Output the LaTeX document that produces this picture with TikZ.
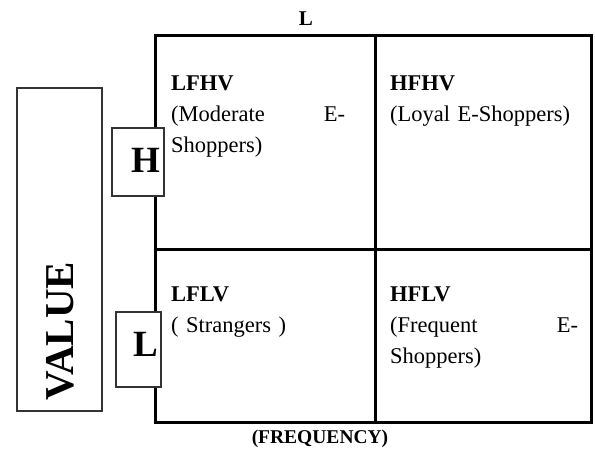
\documentclass[tikz,border=0pt]{standalone}
\usepackage{fontspec}
\setmainfont{Liberation Serif}
\begin{document}
\begin{tikzpicture}[x=1pt,y=-1pt,
  cell/.style={draw=black,line width=3pt,minimum width=#1,inner sep=0pt,outer sep=0pt},
  thinbox/.style={draw=black!80,line width=1.2pt,fill=white,inner sep=0pt,outer sep=0pt},
  celltext/.style={anchor=north west,inner sep=0pt,align=left,text width=#1,
    font=\fontsize{22.5}{31}\selectfont},
  bigletter/.style={inner sep=0pt,font=\fontsize{37}{37}\selectfont\bfseries},
  axislabel/.style={inner sep=0pt,font=\fontsize{21}{21}\selectfont\bfseries}]
\useasboundingbox (0,0) rectangle (595,453);
\fill[white] (0,0) rectangle (595,453);
% grid cells
\node[cell=220pt,minimum height=214pt] (c11) at (265,142) {};
\node[cell=216pt,minimum height=214pt] (c12) at (483,142) {};
\node[cell=220pt,minimum height=173pt] (c21) at (265,335.5) {};
\node[cell=216pt,minimum height=173pt] (c22) at (483,335.5) {};
% value box
\node[thinbox,minimum width=85pt,minimum height=323pt] (valbox) at (59.5,249.5) {};
\node[inner sep=0pt,rotate=90,font=\fontsize{41}{41}\selectfont\bfseries] (valtxt) at (60,331) {VALUE};
% H and L boxes
\node[thinbox,minimum width=52pt,minimum height=68pt] (hbox) at (138,162) {};
\node[bigletter] (htxt) at (145.5,160) {H};
\node[thinbox,minimum width=45pt,minimum height=75pt] (lbox) at (138.5,349.5) {};
\node[bigletter] (ltxt) at (146,344) {L};
% axis labels
\node[axislabel] (toplab) at (306,19) {L};
\node[axislabel,font=\fontsize{19.5}{19.5}\selectfont\bfseries] (freq) at (320,439) {(FREQUENCY)};
% cell texts
\node[celltext=174pt] (t11) at (171,76) {\textbf{LFHV}\\(Moderate\hfill E-\\Shoppers)};
\node[celltext=188pt] (t12) at (390,76) {\textbf{HFHV}\\(Loyal E-Shoppers)};
\node[celltext=174pt] (t21) at (171,287) {\textbf{LFLV}\\( Strangers )};
\node[celltext=188pt] (t22) at (390,287) {\textbf{HFLV}\\(Frequent\hfill E-\\Shoppers)};
\end{tikzpicture}
\end{document}
